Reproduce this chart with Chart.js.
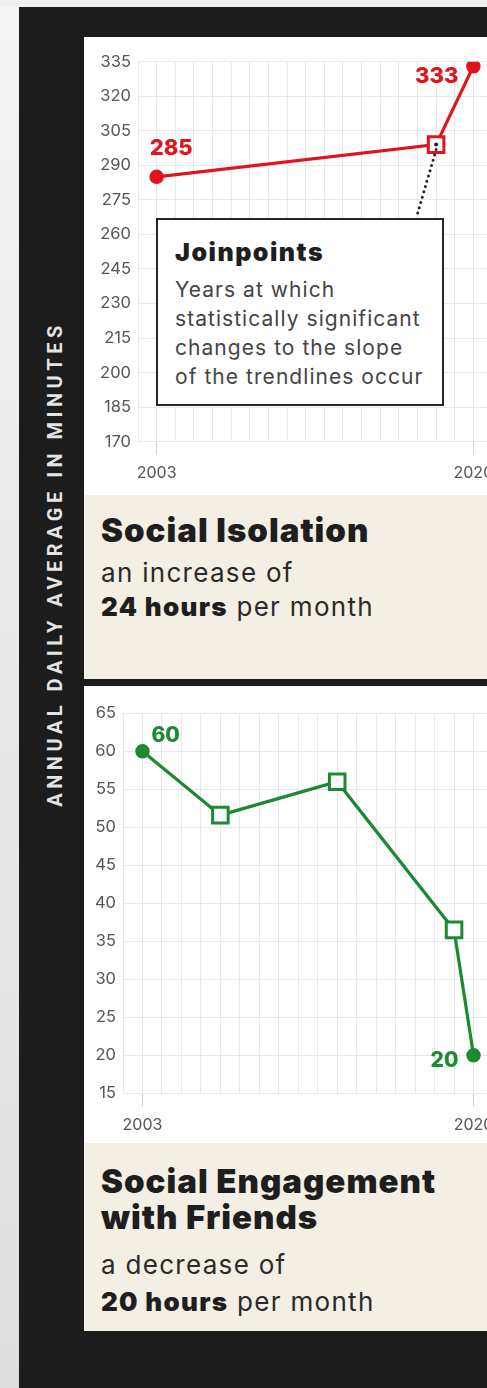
<!DOCTYPE html>
<html><head><meta charset="utf-8">
<script src="https://cdn.jsdelivr.net/npm/chart.js@4.4.1/dist/chart.umd.min.js"></script>
<style>
html,body{margin:0;padding:0;}
body{width:487px;height:1388px;overflow:hidden;background:#1c1c1c;position:relative;font-family:Inter,Roboto,sans-serif;}
#strip{position:absolute;left:0;top:0;width:19px;height:1388px;background:linear-gradient(#f4f4f4,#dedede);}
#topstrip{position:absolute;left:0;top:0;width:487px;height:7px;background:#efefef;}
#vlabel{position:absolute;left:55px;top:564px;transform:translate(-50%,-50%) rotate(-90deg);color:#e4e4e4;font:700 20px Roboto;letter-spacing:4.5px;white-space:nowrap;}
.panel{position:absolute;left:84px;width:440px;}
.chartbox{position:absolute;left:0;top:0;width:440px;background:#fff;}
.chartbox canvas{position:absolute;left:0;top:0;}
.caption{position:absolute;left:0;width:440px;background:#f3efe4;}
.ln{position:absolute;left:17px;white-space:nowrap;color:#222;}
.t{font-weight:900;font-size:33px;line-height:36px;color:#1e1e1e;letter-spacing:1px;}
.s{font-weight:400;font-size:26px;line-height:30px;color:#2a2a2a;letter-spacing:1.3px;}
.s b{font-weight:900;color:#1e1e1e;}
#jbox{position:absolute;left:72px;top:181px;width:284px;height:184px;background:#fff;border:2.5px solid #262626;box-sizing:content-box;}
#jbox .h{position:absolute;left:17px;top:17px;font-weight:900;font-size:25px;line-height:30px;color:#1e1e1e;letter-spacing:1.5px;}
#jbox .b{position:absolute;left:17px;font-size:21px;line-height:29px;color:#444;white-space:nowrap;letter-spacing:1.05px;}
</style></head>
<body>
<div id="strip"></div><div id="topstrip"></div>
<div id="vlabel">ANNUAL DAILY AVERAGE IN MINUTES</div>

<div class="panel" style="top:37px;height:642px;">
  <div class="chartbox" style="height:458px;"><canvas id="c1"></canvas></div>
  <div id="jbox">
    <div class="h">Joinpoints</div>
    <div class="b" style="top:55px;">Years at which</div>
    <div class="b" style="top:84px;">statistically significant</div>
    <div class="b" style="top:113px;">changes to the slope</div>
    <div class="b" style="top:142px;">of the trendlines occur</div>
  </div>
  <div class="caption" style="top:458px;height:184px;">
    <div class="ln t" style="top:17px;">Social Isolation</div>
    <div class="ln s" style="top:63px;">an increase of</div>
    <div class="ln s" style="top:97px;"><b>24 hours</b> per month</div>
  </div>
</div>

<div class="panel" style="top:686px;height:645px;">
  <div class="chartbox" style="height:457px;"><canvas id="c2"></canvas></div>
  <div class="caption" style="top:457px;height:188px;">
    <div class="ln t" style="top:20px;">Social Engagement</div>
    <div class="ln t" style="top:56px;">with Friends</div>
    <div class="ln s" style="top:107px;">a decrease of</div>
    <div class="ln s" style="top:144px;"><b>20 hours</b> per month</div>
  </div>
</div>

<script>
// ---- data ----
const years1 = [2003, 2018, 2020];
const isolation = [285, 299, 333];
const joinpoints1 = [2018];

const years2 = [2003, 2007, 2013, 2019, 2020];
const friends = [60, 51.6, 56, 36.5, 20];
const joinpoints2 = [2007, 2013, 2019];

const xLabelYears = [2003, 2020];
const xRange = [2002, 2021];
const yRange1 = [170, 335], yStep1 = 15;
const yRange2 = [15, 65], yStep2 = 5;

const RED = '#e1141c', GREEN = '#1b8a31';

const labelPlugin = {
  id: 'ptLabels',
  afterDatasetsDraw(chart, args, opts) {
    const ctx = chart.ctx;
    const meta = chart.getDatasetMeta(0);
    ctx.save();
    if (opts.leader) {
      const p = meta.data[opts.leader.index];
      const box = document.getElementById('jbox');
      const endY = box.offsetTop - 2;
      const endX = p.x - 0.27 * (endY - p.y);
      ctx.strokeStyle = '#222'; ctx.lineWidth = 3; ctx.lineCap = 'round';
      ctx.setLineDash([0, 5.5]);
      ctx.beginPath(); ctx.moveTo(p.x, p.y + 5); ctx.lineTo(endX, endY); ctx.stroke();
      ctx.setLineDash([]);
      ctx.fillStyle = '#222';
      ctx.beginPath(); ctx.arc(p.x, p.y, 2, 0, Math.PI * 2); ctx.fill();
    }
    ctx.font = '800 ' + opts.size + 'px Inter';
    ctx.fillStyle = opts.color;
    ctx.textBaseline = 'middle';
    opts.items.forEach(it => {
      const p = meta.data[it.index];
      ctx.textAlign = it.align;
      ctx.fillText(chart.data.datasets[0].data[it.index].y.toFixed(0), p.x + it.dx, p.y + it.dy);
    });
    ctx.restore();
  }
};

function makeChart(id, w, h, years, vals, joins, color, yRange, yStep, yWidth, padTop, xH, labelOpts) {
  const el = document.getElementById(id);
  el.style.width = w + 'px'; el.style.height = h + 'px';
  return new Chart(el, {
    type: 'line',
    data: { datasets: [{
      data: years.map((x, i) => ({ x, y: vals[i] })),
      borderColor: color, borderWidth: 3.2,
      pointStyle: c => joins.includes(years[c.dataIndex]) ? 'rect' : 'circle',
      pointRadius: c => joins.includes(years[c.dataIndex]) ? 11 : 6.5,
      pointBorderWidth: c => joins.includes(years[c.dataIndex]) ? 3 : 1.5,
      pointBackgroundColor: c => joins.includes(years[c.dataIndex]) ? '#fff' : color,
      pointBorderColor: color,
      tension: 0
    }]},
    options: {
      responsive: false, animation: false, devicePixelRatio: 1,
      layout: { padding: { top: padTop, left: 0, right: 0, bottom: 0 } },
      plugins: { legend: { display: false }, tooltip: { enabled: false }, ptLabels: labelOpts },
      scales: {
        x: {
          type: 'linear', min: xRange[0], max: xRange[1],
          afterFit: s => { s.height = xH; },
          border: { display: false },
          grid: { color: '#e8e8e8', lineWidth: 1, drawTicks: true, tickLength: 13,
                  tickColor: c => (c.tick && xLabelYears.includes(c.tick.value)) ? '#cfcfcf' : 'rgba(0,0,0,0)' },
          ticks: { stepSize: 1, autoSkip: false, maxRotation: 0, padding: 9,
                   color: '#555', font: { family: 'Inter', size: 16 },
                   callback: v => xLabelYears.includes(v) ? String(v) : '' }
        },
        y: {
          min: yRange[0], max: yRange[1],
          afterFit: s => { s.width = yWidth; },
          border: { display: false },
          grid: { color: '#e8e8e8', lineWidth: 1, drawTicks: false },
          ticks: { stepSize: yStep, padding: 7, color: '#555', font: { family: 'Inter', size: 16.5 } }
        }
      }
    },
    plugins: [labelPlugin]
  });
}

makeChart('c1', 417, 458, years1, isolation, joinpoints1, RED, yRange1, yStep1, 54, 24.7, 53.3, {
  size: 22, color: RED,
  leader: { index: 1 },
  items: [ { index: 0, dx: -7, dy: -28, align: 'left' }, { index: 2, dx: -15, dy: 10, align: 'right' } ]
});
makeChart('c2', 418, 457, years2, friends, joinpoints2, GREEN, yRange2, yStep2, 39, 27.3, 49.7, {
  size: 21, color: GREEN,
  items: [ { index: 0, dx: 9, dy: -16, align: 'left' }, { index: 4, dx: -15, dy: 5, align: 'right' } ]
});
</script>
</body></html>
